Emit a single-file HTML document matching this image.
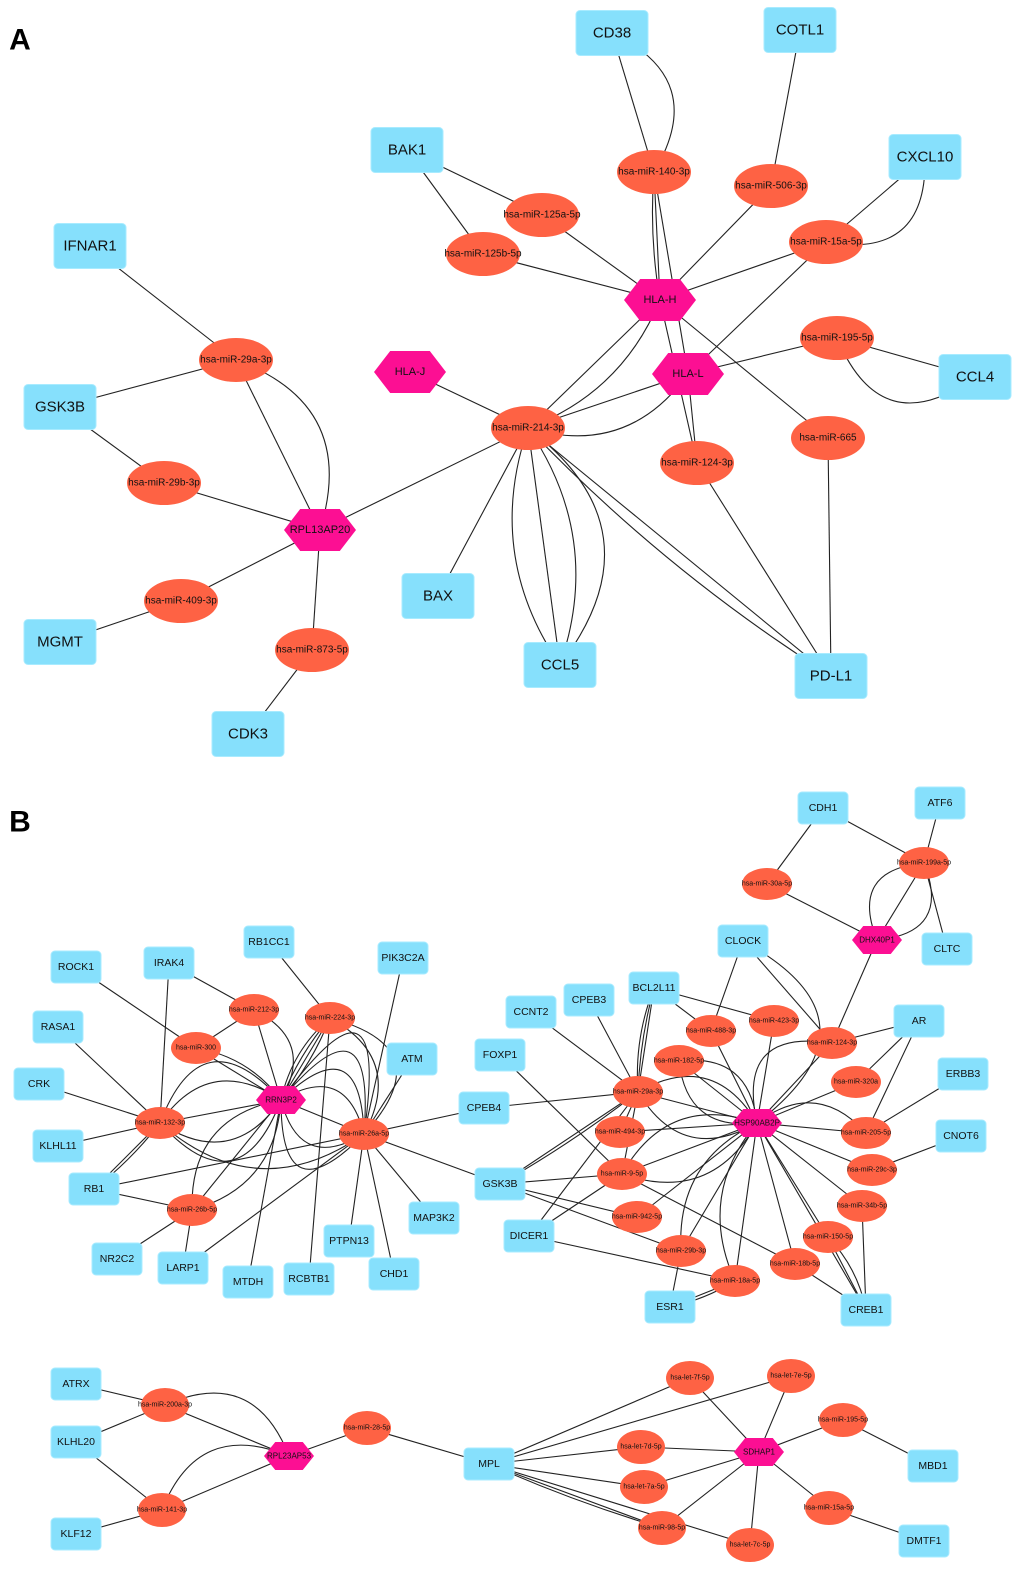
<!DOCTYPE html>
<html><head><meta charset="utf-8"><style>
html,body{margin:0;padding:0;background:#fff}
svg{display:block}
text{font-family:"Liberation Sans",Arial,sans-serif;text-anchor:middle;dominant-baseline:central;fill:#111}
</style></head><body>
<svg id="s" width="1020" height="1571" viewBox="0 0 1020 1571" xmlns="http://www.w3.org/2000/svg">
<text x="20" y="40" style="font-size:30px;font-weight:bold;fill:#000">A</text>
<text x="20" y="822" style="font-size:30px;font-weight:bold;fill:#000">B</text>
<g id="E" fill="none" stroke="#222" stroke-width="1.1"></g>
<g id="N"></g>
</svg>
<script>
var N={};
function n(id,t,x,y,lab,sz){N[id]={t:t,x:x,y:y,l:lab||id,s:sz};}
var A={r:[72,45,15],e:[37,22,10],h:[72,42,11]}, B={r:[50,32,10.5],e:[25,16,7],h:[50,28,8]}, C={r:[50,32,10.5],e:[24,17,7],h:[50,28,8]};
[["CD38",612,33],["COTL1",800,30],["BAK1",407,150],["CXCL10",925,157],["IFNAR1",90,246],["GSK3B",60,407],["CCL4",975,377],["BAX",438,596],["CCL5",560,665],["PD-L1",831,676],["MGMT",60,642],["CDK3",248,734]].forEach(function(a){n("A_"+a[0],"r",a[1],a[2],a[0],A);});
[["140","hsa-miR-140-3p",654,172],["506","hsa-miR-506-3p",771,186],["125a","hsa-miR-125a-5p",542,215],["125b","hsa-miR-125b-5p",483,254],["15a","hsa-miR-15a-5p",826,242],["195","hsa-miR-195-5p",837,338],["29a","hsa-miR-29a-3p",236,360],["214","hsa-miR-214-3p",528,428],["665","hsa-miR-665",828,438],["124","hsa-miR-124-3p",697,463],["29b","hsa-miR-29b-3p",164,483],["409","hsa-miR-409-3p",181,601],["873","hsa-miR-873-5p",312,650]].forEach(function(a){n("A_"+a[0],"e",a[2],a[3],a[1],A);});
[["HLA-H",660,300],["HLA-J",410,372],["HLA-L",688,374],["RPL13AP20",320,530]].forEach(function(a){n("A_"+a[0],"h",a[1],a[2],a[0],A);});
var EA=[["CD38","140",0],["CD38","140",-40],["140","HLA-H",0],["140","HLA-H",4],["140","HLA-L",0],["COTL1","506",0],["506","HLA-H",0],["BAK1","125a",0],["BAK1","125b",0],["125a","HLA-H",0],["125b","HLA-H",0],["CXCL10","15a",0],["CXCL10","15a",-40],["15a","HLA-H",0],["15a","HLA-L",0],["195","CCL4",0],["195","CCL4",45],["195","HLA-L",0],["HLA-H","665",0],["HLA-H","214",0],["HLA-H","214",-20],["HLA-H","124",0],["214","HLA-L",0],["214","HLA-L",30],["214","HLA-J",0],["124","HLA-L",0],["124","PD-L1",0],["665","PD-L1",0],["214","PD-L1",0],["214","PD-L1",12],["214","CCL5",30],["214","CCL5",-30],["214","CCL5",0],["214","CCL5",-60],["214","BAX",0],["214","RPL13AP20",0],["IFNAR1","29a",0],["GSK3B","29a",0],["GSK3B","29b",0],["29a","RPL13AP20",0],["29a","RPL13AP20",-45],["29b","RPL13AP20",0],["RPL13AP20","409",0],["409","MGMT",0],["RPL13AP20","873",0],["873","CDK3",0]];
EA.forEach(function(e){e[0]="A_"+e[0];e[1]="A_"+e[1];});
[["ROCK1",76,967],["IRAK4",169,963],["RB1CC1",269,942],["PIK3C2A",403,958],["RASA1",58,1027],["ATM",412,1059],["CRK",39,1084],["KLHL11",58,1146],["RB1",94,1189],["CPEB4",484,1108],["NR2C2",117,1259],["LARP1",183,1268],["MTDH",248,1282],["PTPN13",349,1241],["RCBTB1",309,1279],["CHD1",394,1274],["MAP3K2",434,1218],
["CLOCK",743,941],["CLTC",947,949],["BCL2L11",654,988],["CPEB3",589,1000],["CCNT2",531,1012],["FOXP1",500,1055],["AR",919,1021],["ERBB3",963,1074],["CNOT6",961,1136],["GSK3B",500,1184],["DICER1",529,1236],["ESR1",670,1307],["CREB1",866,1310],["CDH1",823,808],["ATF6",940,803]].forEach(function(a){n(a[0],"r",a[1],a[2],a[0],B);});
[["ATRX",76,1384],["KLHL20",76,1442],["KLF12",76,1534],["MPL",489,1464],["MBD1",933,1466],["DMTF1",924,1541]].forEach(function(a){n(a[0],"r",a[1],a[2],a[0],C);});
[["212","hsa-miR-212-3p",254,1010],["224","hsa-miR-224-3p",330,1018],["300","hsa-miR-300",196,1048],["132","hsa-miR-132-3p",160,1123],["26a","hsa-miR-26a-5p",364,1134],["26b","hsa-miR-26b-5p",192,1210],
["488","hsa-miR-488-3p",711,1031],["423","hsa-miR-423-3p",774,1021],["124","hsa-miR-124-3p",832,1043],["182","hsa-miR-182-5p",679,1061],["320a","hsa-miR-320a",856,1082],["29a","hsa-miR-29a-3p",638,1092],["494","hsa-miR-494-3p",620,1132],["205","hsa-miR-205-5p",866,1133],["9","hsa-miR-9-5p",622,1174],["29c","hsa-miR-29c-3p",872,1170],["34b","hsa-miR-34b-5p",862,1206],["942","hsa-miR-942-5p",637,1217],["150","hsa-miR-150-5p",828,1237],["29b","hsa-miR-29b-3p",681,1251],["18b","hsa-miR-18b-5p",795,1264],["18a","hsa-miR-18a-5p",735,1281],
["199a","hsa-miR-199a-5p",924,863],["30a","hsa-miR-30a-5p",767,884]].forEach(function(a){n(a[0],"e",a[2],a[3],a[1],B);});
[["200a","hsa-miR-200a-3p",165,1405],["141","hsa-miR-141-3p",162,1510],["28","hsa-miR-28-5p",367,1428],["7f","hsa-let-7f-5p",690,1378],["7e","hsa-let-7e-5p",791,1376],["7d","hsa-let-7d-5p",641,1447],["7a","hsa-let-7a-5p",644,1487],["98","hsa-miR-98-5p",662,1528],["7c","hsa-let-7c-5p",750,1545],["195","hsa-miR-195-5p",843,1420],["15a","hsa-miR-15a-5p",829,1508]].forEach(function(a){n(a[0],"e",a[2],a[3],a[1],C);});
[["RRN3P2",281,1100],["HSP90AB2P",757,1123],["DHX40P1",877,940],["RPL23AP53",289,1456],["SDHAP1",759,1452]].forEach(function(a){n(a[0],"h",a[1],a[2],a[0],B);});
var EB=[["ROCK1","300",0],["IRAK4","132",0],["IRAK4","212",0],["RB1CC1","224",0],["PIK3C2A","26a",0],["RASA1","132",0],["ATM","26a",0],["CRK","132",0],["KLHL11","132",0],["RB1","132",0],["RB1","132",3],["RB1","26a",0],["RB1","26b",0],["CPEB4","26a",0],["NR2C2","26b",0],["LARP1","26b",0],["LARP1","26a",0],["MTDH","RRN3P2",0],["RCBTB1","224",0],["PTPN13","26a",0],["CHD1","26a",0],["MAP3K2","26a",0],["GSK3B","26a",0],
["212","300",0],["212","RRN3P2",0],["212","RRN3P2",-25],["300","RRN3P2",0],["300","RRN3P2",-10],["132","RRN3P2",0],["132","RRN3P2",-30],["132","RRN3P2",30],["132","RRN3P2",-50],["132","RRN3P2",50],["224","RRN3P2",0],["224","RRN3P2",4],["224","RRN3P2",-4],["224","RRN3P2",8],["224","26a",-30],["224","26a",-50],["26a","RRN3P2",0],["26a","RRN3P2",30],["26a","RRN3P2",-30],["26a","RRN3P2",50],["26a","RRN3P2",70],["26a","RRN3P2",90],["26a","RRN3P2",-55],["26b","RRN3P2",0],["26b","RRN3P2",-30],["26b","RRN3P2",25],["26a","132",-40],
["CLOCK","488",0],["CLOCK","124",0],["CLOCK","HSP90AB2P",-70],["BCL2L11","29a",0],["BCL2L11","29a",3],["BCL2L11","29a",6],["BCL2L11","488",0],["BCL2L11","423",0],["CPEB3","29a",0],["CCNT2","29a",0],["FOXP1","9",0],["CPEB4","29a",0],["GSK3B","29a",0],["GSK3B","29a",3],["GSK3B","9",0],["GSK3B","942",0],["GSK3B","29b",0],["DICER1","29a",0],["DICER1","9",0],["DICER1","18a",0],["ESR1","29b",0],["ESR1","18a",0],["ESR1","18a",3],["CREB1","18b",0],["CREB1","150",0],["CREB1","150",6],["CREB1","34b",0],["CREB1","HSP90AB2P",0],["AR","124",0],["AR","320a",0],["AR","205",0],["ERBB3","205",0],["CNOT6","29c",0],["DHX40P1","124",0],["DHX40P1","30a",0],["DHX40P1","199a",0],["DHX40P1","199a",30],["DHX40P1","199a",-30],["CDH1","30a",0],["CDH1","199a",0],["ATF6","199a",0],["CLTC","199a",0],["9","18b",0],["29a","494",0],["29a","9",0],
["HSP90AB2P","488",0],["HSP90AB2P","423",0],["HSP90AB2P","124",0],["HSP90AB2P","124",-40],["HSP90AB2P","182",0],["HSP90AB2P","182",25],["HSP90AB2P","182",-25],["HSP90AB2P","320a",0],["HSP90AB2P","29a",0],["HSP90AB2P","29a",30],["HSP90AB2P","29a",-30],["HSP90AB2P","494",0],["HSP90AB2P","205",0],["HSP90AB2P","205",-25],["HSP90AB2P","9",0],["HSP90AB2P","9",30],["HSP90AB2P","9",-30],["HSP90AB2P","29c",0],["HSP90AB2P","34b",0],["HSP90AB2P","942",0],["HSP90AB2P","150",0],["HSP90AB2P","29b",0],["HSP90AB2P","29b",25],["HSP90AB2P","18b",0],["HSP90AB2P","18a",0],["HSP90AB2P","18a",25],
["ATRX","200a",0],["KLHL20","200a",0],["KLHL20","141",0],["KLF12","141",0],["200a","RPL23AP53",0],["200a","RPL23AP53",-35],["141","RPL23AP53",0],["141","RPL23AP53",-35],["RPL23AP53","28",0],["28","MPL",0],["MPL","7f",0],["MPL","7e",0],["MPL","7d",0],["MPL","7a",0],["MPL","98",0],["MPL","98",3],["MPL","7c",0],["SDHAP1","7f",0],["SDHAP1","7e",0],["SDHAP1","7d",0],["SDHAP1","7a",0],["SDHAP1","98",0],["SDHAP1","7c",0],["SDHAP1","195",0],["SDHAP1","15a",0],["195","MBD1",0],["15a","DMTF1",0]];
var ns="http://www.w3.org/2000/svg",G=document.getElementById("E"),NG=document.getElementById("N");
EA.concat(EB).forEach(function(e){var a=N[e[0]],b=N[e[1]];if(!a||!b)return;var p=document.createElementNS(ns,"path");var d;
if(e[2]){var mx=(a.x+b.x)/2,my=(a.y+b.y)/2,dx=b.x-a.x,dy=b.y-a.y,L=Math.sqrt(dx*dx+dy*dy)||1;var cx=mx-dy/L*e[2]*2,cy=my+dx/L*e[2]*2;d="M"+a.x+" "+a.y+"Q"+cx+" "+cy+" "+b.x+" "+b.y;}
else d="M"+a.x+" "+a.y+"L"+b.x+" "+b.y;p.setAttribute("d",d);G.appendChild(p);});
for(var k in N){var o=N[k],s=o.s,el;
if(o.t=="r"){var w=s.r[0],h=s.r[1];el=document.createElementNS(ns,"rect");el.setAttribute("x",o.x-w/2);el.setAttribute("y",o.y-h/2);el.setAttribute("width",w);el.setAttribute("height",h);el.setAttribute("rx",4);el.setAttribute("fill","#86e0fc");el.setAttribute("stroke","#a8ebff");}
else if(o.t=="e"){el=document.createElementNS(ns,"ellipse");el.setAttribute("cx",o.x);el.setAttribute("cy",o.y);el.setAttribute("rx",s.e[0]);el.setAttribute("ry",s.e[1]);el.setAttribute("fill","#fe6244");}
else{var w=s.h[0]/2,h=s.h[1]/2,q=w*0.45;el=document.createElementNS(ns,"polygon");el.setAttribute("points",[[o.x-w,o.y],[o.x-w+q,o.y-h],[o.x+w-q,o.y-h],[o.x+w,o.y],[o.x+w-q,o.y+h],[o.x-w+q,o.y+h]].map(function(p){return p.join(",")}).join(" "));el.setAttribute("fill","#fc0f93");}
NG.appendChild(el);var t=document.createElementNS(ns,"text");t.setAttribute("x",o.x);t.setAttribute("y",o.y);var fs=o.t=="r"?s.r[2]:o.t=="e"?s.e[2]:s.h[2];t.setAttribute("style","font-size:"+fs+"px");t.textContent=o.l;NG.appendChild(t);}
</script>
</body></html>
